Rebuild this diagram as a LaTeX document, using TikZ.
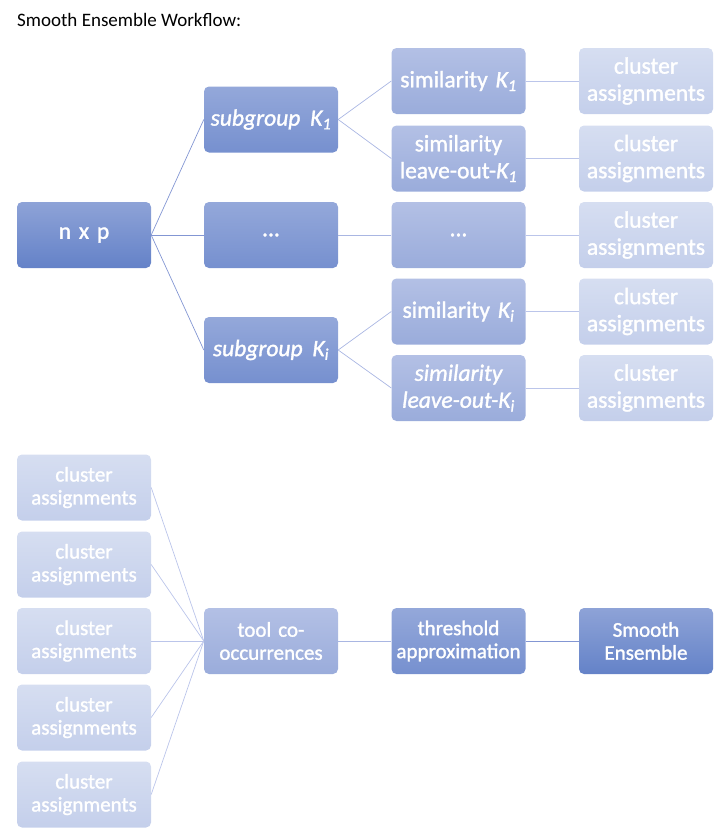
\documentclass[tikz,border=0pt]{standalone}
\usepackage{fontspec}
\setmainfont{Carlito}
\newfontfamily\boxfont{Carlito}[FakeBold=1.4]
\definecolor{aT}{HTML}{8EA3D7}\definecolor{aB}{HTML}{6482C8}
\definecolor{bT}{HTML}{94A8DA}\definecolor{bB}{HTML}{7690CF}
\definecolor{cT}{HTML}{B3C0E5}\definecolor{cB}{HTML}{9AACDB}
\definecolor{dT}{HTML}{D6DEF1}\definecolor{dB}{HTML}{C4CFEB}
\definecolor{lnA}{HTML}{8396D3}
\definecolor{lnB}{HTML}{A9B6E2}
\definecolor{lnC}{HTML}{BBC5EA}
\newcommand\Kx[1]{\textit{K\textsubscript{#1}}}
\begin{document}
\begin{tikzpicture}[x=1pt,y=-1pt,
  box/.style={rounded corners=5pt, minimum width=134pt, minimum height=66pt,
    inner sep=0pt, text width=132pt, align=center, text=white, draw=none,
    font=\boxfont\fontsize{23.5}{27}\selectfont},
  small/.style={font=\boxfont\fontsize{21}{23}\selectfont},
  lvA/.style={box, top color=aT, bottom color=aB},
  lvB/.style={box, top color=bT, bottom color=bB},
  lvC/.style={box, top color=cT, bottom color=cB},
  lvD/.style={box, top color=dT, bottom color=dB},
  wA/.style={draw=lnA, line width=0.7pt},
  wB/.style={draw=lnB, line width=0.7pt},
  wC/.style={draw=lnC, line width=0.7pt}]
\useasboundingbox (0,0) rectangle (726,839);
\node[anchor=base west, font=\fontsize{19}{22}\selectfont, inner sep=0pt] (title) at (17,26) {Smooth Ensemble Workflow:};
% top tree
\node[lvA] (nxp) at (84,235) {n x p};
\node[lvB] (s1) at (271,119.5) {\textit{subgroup \hspace{2pt}K\textsubscript{1}}};
\node[lvB] (sd) at (271,235) {...};
\node[lvB] (si) at (271,350) {\textit{subgroup \hspace{2pt}K\textsubscript{i}}};
\node[lvC] (m1) at (458.5,81) {similarity \Kx{1}};
\node[lvC] (l1) at (458.5,158.5) {similarity\\leave-out-\Kx{1}};
\node[lvC] (md) at (458.5,235) {...};
\node[lvC] (mi) at (458.5,311.5) {similarity \Kx{i}};
\node[lvC] (li) at (458.5,388) {\textit{similarity\\leave-out-K\textsubscript{i}}};
\foreach \n/\y in {c1/81,c2/158.5,c3/235,c4/311.5,c5/388}
  \node[lvD] (\n) at (646,\y) {cluster\\assignments};
\draw[wA] (nxp.east) -- (s1.west);
\draw[wA] (nxp.east) -- (sd.west);
\draw[wA] (nxp.east) -- (si.west);
\draw[wB] (s1.east) -- (m1.west);
\draw[wB] (s1.east) -- (l1.west);
\draw[wB] (sd.east) -- (md.west);
\draw[wB] (si.east) -- (mi.west);
\draw[wB] (si.east) -- (li.west);
\draw[wC] (m1.east) -- (c1.west);
\draw[wC] (l1.east) -- (c2.west);
\draw[wC] (md.east) -- (c3.west);
\draw[wC] (mi.east) -- (c4.west);
\draw[wC] (li.east) -- (c5.west);
% bottom
\foreach \n/\y in {b1/487.5,b2/564.5,b3/641,b4/717.5,b5/794.5}
  \node[lvD, small] (\n) at (84,\y) {cluster\\assignments};
\node[lvC, small] (tool) at (271,641) {tool co-\\occurrences};
\node[lvB, small] (thr) at (458.5,641) {threshold\\approximation};
\node[lvA, small] (se) at (646,641) {Smooth\\Ensemble};
\foreach \n in {b1,b2,b3,b4,b5}
  \draw[wC] (\n.east) -- (tool.west);
\draw[wB] (tool.east) -- (thr.west);
\draw[wA] (thr.east) -- (se.west);
\end{tikzpicture}
\end{document}
